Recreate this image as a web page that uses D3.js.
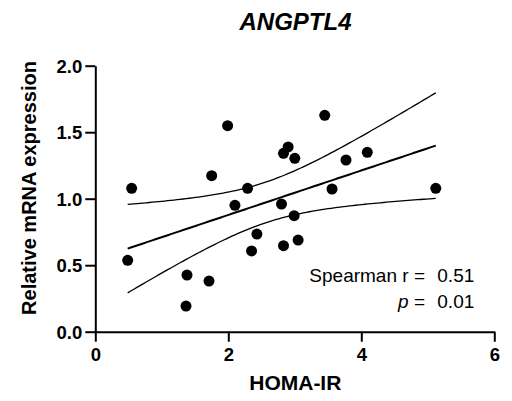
<!DOCTYPE html>
<html><head><meta charset="utf-8">
<script src="https://cdn.jsdelivr.net/npm/d3@7"></script>
<style>body{margin:0;background:#fff}svg{display:block}text{font-family:"Liberation Sans",Arial,sans-serif;fill:#000}</style>
</head><body><svg id="c" width="512" height="401"></svg>
<script>
const homaIR = [0.547,1.99,1.75,2.29,2.83,2.90,3.00,3.45,3.77,4.09,3.56,5.12,2.10,2.80,0.487,1.379,1.71,1.364,2.43,2.35,2.83,2.99,3.05];
const mRNA   = [1.078,1.549,1.173,1.078,1.341,1.389,1.304,1.627,1.291,1.349,1.073,1.078,0.950,0.96,0.537,0.426,0.381,0.193,0.734,0.607,0.647,0.872,0.689];
const xTicks = [0,2,4,6];
const yTicks = [0.0,0.5,1.0,1.5,2.0];
const title = "ANGPTL4";
const xLabel = "HOMA-IR";
const yLabel = "Relative mRNA expression";
const statLabels = ["Spearman r =", "p ="];
const statValues = ["0.51", "0.01"];

const svg = d3.select("#c");
const x = d3.scaleLinear().domain([0,6]).range([95.3,494.3]);
const y = d3.scaleLinear().domain([0,2]).range([331.7,65.7]);

// regression + 95% CI
const n = homaIR.length;
const mx = d3.mean(homaIR), my = d3.mean(mRNA);
let sxx=0, sxy=0;
for(let i=0;i<n;i++){sxx+=(homaIR[i]-mx)**2; sxy+=(homaIR[i]-mx)*(mRNA[i]-my);}
const b = sxy/sxx, a = my-b*mx;
let sse=0; for(let i=0;i<n;i++){sse+=(mRNA[i]-(a+b*homaIR[i]))**2;}
const s = Math.sqrt(sse/(n-2));
const tq = 2.080;
const xs = d3.range(0,101).map(k=>d3.min(homaIR)+(d3.max(homaIR)-d3.min(homaIR))*k/100);
const fit = xs.map(v=>[v,a+b*v]);
const se = v=>s*Math.sqrt(1/n+(v-mx)**2/sxx);
const up = xs.map(v=>[v,a+b*v+tq*se(v)]);
const lo = xs.map(v=>[v,a+b*v-tq*se(v)]);
const line = d3.line().x(d=>x(d[0])).y(d=>y(d[1]));
svg.append("path").attr("d",line(up)).attr("fill","none").attr("stroke","#000").attr("stroke-width",1.3);
svg.append("path").attr("d",line(lo)).attr("fill","none").attr("stroke","#000").attr("stroke-width",1.3);
svg.append("path").attr("d",line(fit)).attr("fill","none").attr("stroke","#000").attr("stroke-width",2);

// axes
const xa = svg.append("g").attr("transform","translate(0,331.7)")
  .call(d3.axisBottom(x).tickValues(xTicks).tickFormat(d3.format("d")).tickSize(10).tickSizeOuter(0).tickPadding(6));
const ya = svg.append("g").attr("transform","translate(95.3,0)")
  .call(d3.axisLeft(y).tickValues(yTicks).tickFormat(d3.format(".1f")).tickSize(10).tickSizeOuter(0).tickPadding(3));
[xa,ya].forEach(g=>{
  g.select(".domain").attr("stroke","#000").attr("stroke-width",2);
  g.selectAll(".tick line").attr("stroke","#000").attr("stroke-width",2);
  g.selectAll(".tick text").attr("font-family","Liberation Sans, Arial, sans-serif").attr("font-size",18.5).attr("font-weight","bold").attr("fill","#000");
});
ya.selectAll(".tick text").attr("dy","0.36em");

// points
svg.append("g").selectAll("circle").data(homaIR).join("circle")
  .attr("cx",(d)=>x(d)).attr("cy",(d,i)=>y(mRNA[i])).attr("r",5.5).attr("fill","#000");

// labels
svg.append("text").attr("x",295.5).attr("y",30).attr("text-anchor","middle")
  .attr("font-size",24).attr("font-weight","bold").attr("font-style","italic").text(title);
svg.append("text").attr("x",295.3).attr("y",389.5).attr("text-anchor","middle")
  .attr("font-size",21).attr("font-weight","bold").text(xLabel);
svg.append("text").attr("transform","translate(36,188) rotate(-90)").attr("text-anchor","middle")
  .attr("font-size",20).attr("font-weight","bold").text(yLabel);

const st = svg.append("g");
st.append("text").attr("x",425).attr("y",281.5).attr("text-anchor","end").attr("font-size",19).text(statLabels[0]);
const pl = st.append("text").attr("x",425).attr("y",308).attr("text-anchor","end").attr("font-size",19);
pl.append("tspan").attr("font-style","italic").text(statLabels[1].split(" ")[0]);
pl.append("tspan").text(" "+statLabels[1].split(" ")[1]);
st.append("text").attr("x",437.3).attr("y",281.5).attr("font-size",19).text(statValues[0]);
st.append("text").attr("x",437.3).attr("y",308).attr("font-size",19).text(statValues[1]);
</script></body></html>
